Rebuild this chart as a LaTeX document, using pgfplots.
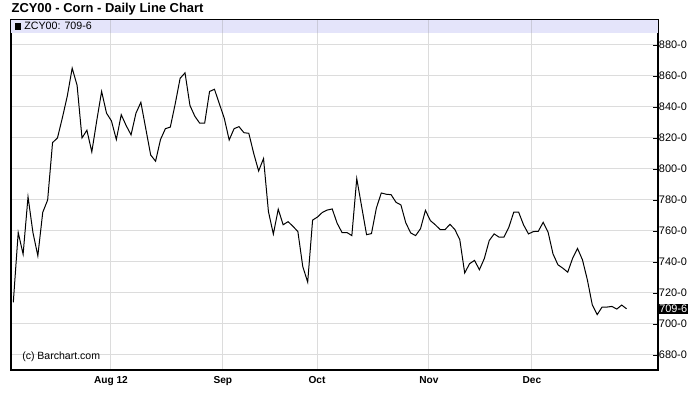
\documentclass[border=0pt]{standalone}
\usepackage{pgfplots}
\pgfplotsset{compat=1.18}
\usepackage{fontspec}
\setmainfont{Liberation Sans}
\definecolor{gridc}{RGB}{220,220,220}
\definecolor{bandc}{RGB}{228,228,250}
\begin{document}
\begin{tikzpicture}
\fill[white] (0pt,0pt) rectangle (525pt,308.25pt);
\useasboundingbox (0pt,0pt) rectangle (525pt,308.25pt);
\node[anchor=west,font=\bfseries\fontsize{9.7pt}{10pt}\selectfont,inner sep=0pt] at (8.5pt,301.5pt) {ZCY00 - Corn - Daily Line Chart};
\begin{axis}[
  at={(8.25pt,30.75pt)}, anchor=south west, scale only axis,
  width=485.25pt, height=262.5pt,
  clip=false,
  xmin=-0.47, xmax=131.4, ymin=670.3, ymax=896.1,
  axis line style={black, line width=0.9pt},
  ytick={680,700,720,740,760,780,800,820,840,860,880},
  yticklabels={680-0,700-0,720-0,740-0,760-0,780-0,800-0,820-0,840-0,860-0,880-0},
  ytick pos=right, yticklabel pos=right,
  xtick={19.9,42.7,61.9,84.7,105.7},
  xticklabels={Aug 12,Sep,Oct,Nov,Dec},
  xtick pos=bottom,
  tick align=inside,
  major tick length=3.5pt,
  xtick style={draw=none},
  ytick style={black, line width=0.6pt},
  grid=major, major grid style={gridc, line width=0.75pt},
  xticklabel style={font=\bfseries\fontsize{7.6pt}{8pt}\selectfont, yshift=-1pt},
  yticklabel style={font=\fontsize{8.2pt}{9pt}\selectfont, xshift=-2.8pt},
]
\fill[bandc] (rel axis cs:0,0.9637) rectangle (rel axis cs:1,1);
\foreach \t in {19.9,42.7,61.9,84.7,105.7}{
  \edef\temp{\noexpand\draw[gridc!80!bandc!70!black, line width=0.75pt, opacity=0.35] (axis cs:\t,887.7) -- (axis cs:\t,896.1);}
  \temp
}
\addplot[black, line width=0.75pt] table[x=i,y=v] {
i v
0 714
1 759
2 745
3 782
4 759
5 744
6 772
7 780
8 817
9 820
10 833
11 847
12 865
13 854
14 820
15 825
16 811
17 831
18 850
19 836
20 831
21 819
22 835
23 828
24 822
25 836
26 843
27 826
28 809
29 805
30 819
31 826
32 827
33 842
34 858.5
35 862
36 841
37 834
38 829.5
39 829.5
40 850
41 851.4
42 842
43 832.7
44 818.7
45 826
46 827.3
47 823.4
48 823
49 810
50 798.7
51 806.7
52 772.5
53 758
54 774
55 764
56 766
57 763
58 759.6
59 737
60 727
61 767
62 769
63 772
64 773.5
65 774.2
66 765
67 759
68 759
69 757
70 793.8
71 775.7
72 757.6
73 758.3
74 774.8
75 784.5
76 783.7
77 783.4
78 778.5
79 776.8
80 765.2
81 758.7
82 757
83 761.5
84 773.3
85 766.7
86 764
87 760.9
88 760.9
89 764.3
90 760.9
91 754.4
92 732.9
93 738.9
94 741
95 735
96 742.2
97 753.8
98 758.1
99 756
100 756
101 762.4
102 772.1
103 772.1
104 763.9
105 758.1
106 759.6
107 759.8
108 765.6
109 759.2
110 745.2
111 738.2
112 736
113 733.4
114 742.4
115 748.7
116 741.4
117 728.5
118 712.4
119 706
120 710.9
121 710.9
122 711.3
123 709.6
124 712.2
125 709.75
};
\node[anchor=west, fill=black, text=white, inner sep=0.8pt, font=\fontsize{8.2pt}{9pt}\selectfont] at (axis cs:131.4,709.75) {709-6};
\node[anchor=west, inner sep=0pt, font=\fontsize{8pt}{9pt}\selectfont] at (rel axis cs:0.005,0.982) {\rule{5.2pt}{5.2pt}\ ZCY00: 709-6};
\node[anchor=west, inner sep=0pt, font=\fontsize{7.9pt}{9pt}\selectfont] at (rel axis cs:0.017,0.037) {(c) Barchart.com};
\end{axis}
\end{tikzpicture}
\end{document}
